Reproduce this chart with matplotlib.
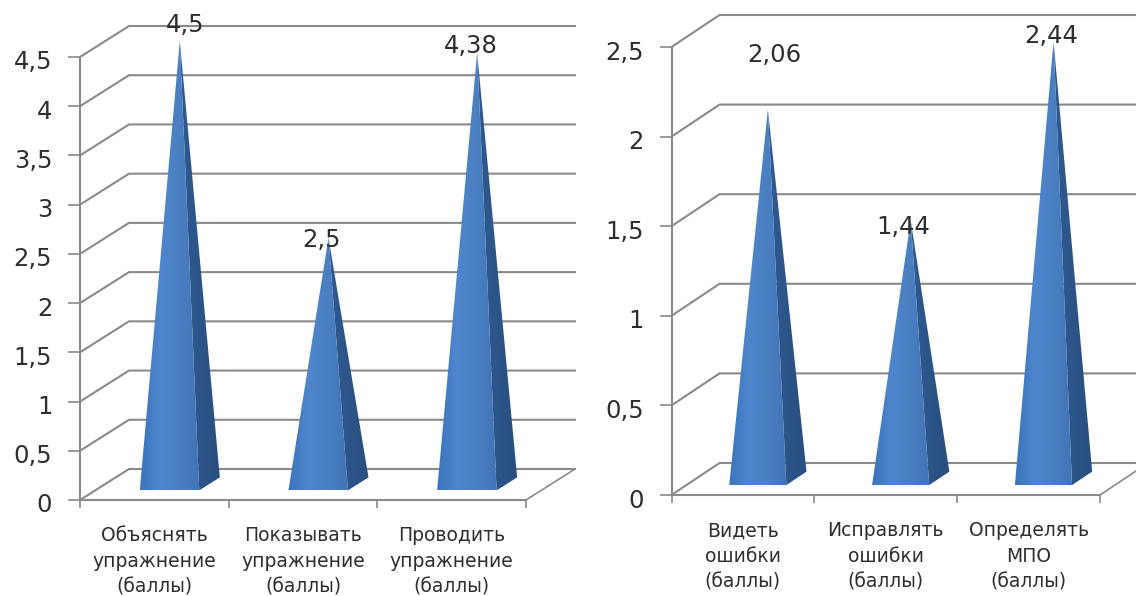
import numpy as np
import matplotlib
matplotlib.use("Agg")
import matplotlib.pyplot as plt
from matplotlib.patches import Polygon
from matplotlib.colors import LinearSegmentedColormap
from matplotlib.transforms import ScaledTranslation

# Survey scores, points
skills_left = ["Объяснять\nупражнение\n(баллы)", "Показывать\nупражнение\n(баллы)", "Проводить\nупражнение\n(баллы)"]
scores_left = [4.5, 2.5, 4.38]
labels_left = ["4,5", "2,5", "4,38"]
ticks_left = [0, 0.5, 1, 1.5, 2, 2.5, 3, 3.5, 4, 4.5]
ticklabels_left = ["0", "0,5", "1", "1,5", "2", "2,5", "3", "3,5", "4", "4,5"]

skills_right = ["Видеть\nошибки\n(баллы)", "Исправлять\nошибки\n(баллы)", "Определять\nМПО\n(баллы)"]
scores_right = [2.06, 1.44, 2.44]
labels_right = ["2,06", "1,44", "2,44"]
ticks_right = [0, 0.5, 1, 1.5, 2, 2.5]
ticklabels_right = ["0", "0,5", "1", "1,5", "2", "2,5"]

W, H = 1136, 596
GREY = "#8a8a8a"
TEXT = "#2e2e2e"
FACE = LinearSegmentedColormap.from_list("face", ["#3c74bd", "#4f86cc", "#4a7fc1", "#3f74b6"])
SIDE = LinearSegmentedColormap.from_list("side", ["#2f5a90", "#2a4f80"])

plt.rcParams["font.family"] = "DejaVu Sans"
fig = plt.figure(figsize=(W / 100, H / 100), dpi=100, facecolor="white")


def shaded(ax, corners, cmap):
    """Fill a polygon with a horizontal colour ramp."""
    poly = Polygon(corners, closed=True, facecolor="none", edgecolor="none", zorder=3)
    ax.add_patch(poly)
    xs = [c[0] for c in corners]
    ys = [c[1] for c in corners]
    im = ax.imshow(np.linspace(0, 1, 64).reshape(1, -1), cmap=cmap, aspect="auto",
                   extent=(min(xs), max(xs), min(ys), max(ys)), zorder=3, interpolation="bilinear")
    im.set_clip_path(poly)


def oblique_chart(left, right, y0, ytop, top_value, depth_px, categories, values, texts,
                  ticks, ticklabels, offsets, tick_pad):
    n = len(categories)
    unit = (y0 - ytop) / top_value
    headroom = top_value * 1.11
    top_px = y0 - headroom * unit
    ax = fig.add_axes([left / W, 1 - y0 / H, (right - left) / W, (y0 - top_px) / H])
    ax.patch.set_alpha(0)
    ax.set_xlim(0, n)
    ax.set_ylim(0, headroom)

    # Depth of the chart box, converted to data units
    dx = depth_px[0] / ((right - left) / n)
    dy = depth_px[1] / unit

    # Back wall gridlines with their slanted run along the side wall
    for t in ticks:
        ax.plot([0, dx, n + dx], [t, t + dy, t + dy], color=GREY, lw=1.5,
                clip_on=False, zorder=1, solid_joinstyle="miter")
    ax.plot([n, n + dx], [0, dy], color=GREY, lw=1.2, clip_on=False, zorder=1)

    # Pyramids
    half = 0.2
    d0, d1 = 0.31, 0.73
    for i, (v, txt, off) in enumerate(zip(values, texts, offsets)):
        c = i + 0.5
        base0 = d0 * dy
        base1 = d1 * dy
        fl = (c - half + d0 * dx, base0)
        fr = (c + half + d0 * dx, base0)
        br = (c + half + d1 * dx, base1)
        apex = (c + (d0 + d1) / 2 * dx, v + (d0 + d1) / 2 * dy)
        shaded(ax, [fr, br, apex], SIDE)
        shaded(ax, [fl, fr, apex], FACE)
        ax.annotate(txt, xy=apex, xytext=off, textcoords="offset pixels", ha="center",
                    va="center", fontsize=17.5, color=TEXT, zorder=5, annotation_clip=False)

    ax.set_xlim(0, n)
    ax.set_ylim(0, headroom)

    for s in ("top", "right"):
        ax.spines[s].set_visible(False)
    for s in ("left", "bottom"):
        ax.spines[s].set_color(GREY)
        ax.spines[s].set_linewidth(1.5)
        ax.spines[s].set_zorder(2)
    ax.spines["left"].set_bounds(0, top_value)

    ax.set_yticks(ticks, ticklabels)
    ax.tick_params(axis="y", length=9, width=1.2, color=GREY, labelsize=17.5,
                   labelcolor=TEXT, pad=tick_pad)
    # Value labels sit slightly below their tick marks
    nudge = ScaledTranslation(0, -3 / 100, fig.dpi_scale_trans)
    for lab in ax.get_yticklabels():
        lab.set_transform(lab.get_transform() + nudge)

    ax.set_xticks(range(n + 1), [""] * (n + 1))
    ax.tick_params(axis="x", which="major", length=6, width=1.2, color=GREY)
    ax.set_xticks([i + 0.5 for i in range(n)], categories, minor=True)
    ax.tick_params(axis="x", which="minor", length=0, pad=19, labelsize=13.5, labelcolor=TEXT)
    for lab in ax.get_xticklabels(minor=True):
        lab.set_linespacing(1.45)
    return ax


oblique_chart(80, 526, 500, 57, 4.5, (49, 31), skills_left, scores_left, labels_left,
              ticks_left, ticklabels_left, [(5, 16), (-7, -2), (-6, 7)], 11)
oblique_chart(671.5, 1100, 495, 47, 2.5, (48, 32), skills_right, scores_right, labels_right,
              ticks_right, ticklabels_right, [(6, 54), (-7, -7), (-2, 5)], 11)

fig.savefig("out.png", dpi=100)
